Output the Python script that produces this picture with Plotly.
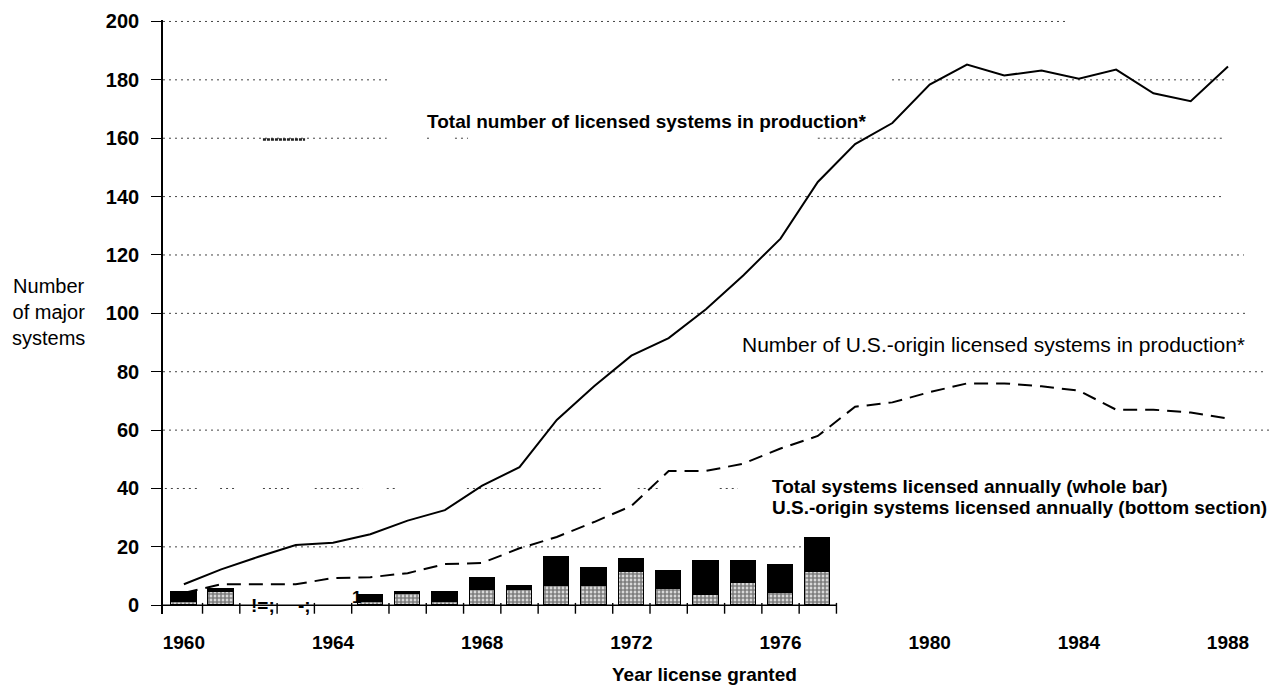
import plotly.graph_objects as go

# ---------------- data ----------------
years = list(range(1960, 1989))
total_in_production = [7.2, 12.3, 16.6, 20.6, 21.4, 24.3, 29.0, 32.6, 41.0, 47.3,
                       63.5, 75.0, 85.5, 91.5, 101.4, 113.0, 125.6, 145.0, 158.0, 165.2,
                       178.4, 185.2, 181.5, 183.2, 180.4, 183.5, 175.4, 172.7, 184.6]
us_in_production = [4.2, 7.2, 7.2, 7.2, 9.3, 9.6, 11.0, 14.1, 14.5, 19.5,
                    23.4, 28.5, 34.0, 46.0, 46.0, 48.5, 53.7, 58.0, 68.0, 69.5,
                    73.0, 76.0, 76.0, 75.0, 73.5, 67.0, 67.0, 66.0, 64.0]

bar_years = list(range(1960, 1978))
total_licensed = [4.6, 5.4, 0, 0, 0, 3.4, 4.4, 4.6, 9.5, 6.6,
                  16.6, 12.6, 15.8, 11.8, 15.2, 15.2, 13.7, 23.0]
us_licensed = [1.0, 4.7, 0, 0, 0, 1.0, 3.8, 1.0, 5.1, 5.1,
               6.5, 6.5, 11.4, 5.4, 3.6, 7.7, 4.1, 11.4]

x_tick_labels = [1960, 1964, 1968, 1972, 1976, 1980, 1984, 1988]
y_tick_labels = list(range(0, 201, 20))

FONT = "Liberation Sans, Arial, Helvetica, sans-serif"
W, H = 1277, 687
ML, MR, MT, MB = 163, 5, 20, 73


def px_x(p):
    return (p - ML) / (W - ML - MR)


def px_y(p):
    return (H - MB - p) / (H - MT - MB)


fig = go.Figure()

# stacked bars: US-origin (stippled) bottom, rest black on top
us_vals = [u if t > 0 else None for u, t in zip(us_licensed, total_licensed)]
rest_vals = [t - u if t > 0 else None for u, t in zip(us_licensed, total_licensed)]

fig.add_trace(go.Bar(
    x=bar_years, y=us_vals, width=0.68,
    marker=dict(color="white", line=dict(color="black", width=1.2),
                pattern=dict(shape=".", fgcolor="black", bgcolor="white",
                             size=4, solidity=0.75, fillmode="overlay")),
    hoverinfo="skip"))
fig.add_trace(go.Bar(
    x=bar_years, y=rest_vals, width=0.68,
    marker=dict(color="black", line=dict(color="black", width=1.2)),
    hoverinfo="skip"))

fig.add_trace(go.Scatter(x=years, y=total_in_production, mode="lines",
                         line=dict(color="black", width=2), hoverinfo="skip"))
fig.add_trace(go.Scatter(x=years, y=us_in_production, mode="lines",
                         line=dict(color="black", width=2, dash="14px,8px"),
                         hoverinfo="skip"))

# ---------------- dotted gridlines (broken as in the scan) ----------------
grid_segments = {
    200: [(1959.44, 1983.68)],
    180: [(1959.44, 1965.47), (1978.99, 1987.94)],
    160: [(1959.44, 1965.44), (1966.52, 1966.68), (1967.27, 1967.62), (1977.0, 1987.92)],
    140: [(1959.44, 1987.92)],
    120: [(1959.44, 1988.43)],
    100: [(1959.44, 1988.48)],
    80: [(1959.44, 1988.99)],
    60: [(1959.44, 1989.12)],
    40: [(1959.49, 1960.35), (1960.97, 1961.45), (1962.12, 1962.84), (1963.51, 1964.8),
         (1965.44, 1965.66), (1967.59, 1971.18), (1972.17, 1972.71), (1974.37, 1974.86)],
    20: [(1959.44, 1976.6)],
}
shapes = []
for yv, segs in grid_segments.items():
    for x0, x1 in segs:
        shapes.append(dict(type="line", xref="x", yref="y", x0=x0, x1=x1, y0=yv, y1=yv,
                           line=dict(color="#444", width=1, dash="2px,4px"), layer="below"))
# scan blemish on the 160 line
shapes.append(dict(type="line", xref="x", yref="y", x0=1962.12, x1=1963.25, y0=159.6, y1=159.6,
                   line=dict(color="#222", width=2.5, dash="3px,1px"), layer="below"))
# x baseline and half-year tick marks
shapes.append(dict(type="line", xref="x", yref="y", x0=1959.3, x1=bar_years[-1] + 0.5,
                   y0=0, y1=0, line=dict(color="black", width=1.6)))
for yr in bar_years:
    shapes.append(dict(type="line", xref="x", yref="y", x0=yr + 0.5, x1=yr + 0.5,
                       y0=0.8, y1=-2.9, line=dict(color="black", width=1.4)))

annotations = [
    dict(text="Total number of licensed systems in production*", x=1966.46, y=165.6,
         xanchor="left", yanchor="middle", showarrow=False,
         font=dict(family=FONT, size=19, color="black", weight="bold")),
    dict(text="Number of U.S.-origin licensed systems in production*", x=1974.91, y=89.2,
         xanchor="left", yanchor="middle", showarrow=False,
         font=dict(family=FONT, size=21, color="black")),
    dict(text="Total systems licensed annually (whole bar)", x=1975.71, y=40.8,
         xanchor="left", yanchor="middle", showarrow=False,
         font=dict(family=FONT, size=19, color="black", weight="bold")),
    dict(text="U.S.-origin systems licensed annually (bottom section)", x=1975.71, y=33.5,
         xanchor="left", yanchor="middle", showarrow=False,
         font=dict(family=FONT, size=19, color="black", weight="bold")),
    dict(text="Number<br>of major<br>systems", xref="paper", yref="paper",
         x=px_x(48), y=px_y(312),
         xanchor="center", yanchor="middle", showarrow=False, align="center",
         font=dict(family=FONT, size=20, color="black")),
    dict(text="Year license granted", xref="paper", yref="paper",
         x=px_x(704), y=px_y(674),
         xanchor="center", yanchor="middle", showarrow=False,
         font=dict(family=FONT, size=19, color="black", weight="bold")),
    # scanning artefacts in the original
    dict(text="!=;", x=1962.13, y=0.0, xanchor="center", yanchor="middle", showarrow=False,
         font=dict(family=FONT, size=19, color="black", weight="bold")),
    dict(text="-;", x=1963.23, y=0.0, xanchor="center", yanchor="middle", showarrow=False,
         font=dict(family=FONT, size=19, color="black", weight="bold")),
    dict(text="1", x=1964.63, y=2.7, xanchor="center", yanchor="middle", showarrow=False,
         font=dict(family=FONT, size=17, color="black", weight="bold")),
]

fig.update_layout(
    width=W, height=H, autosize=False,
    margin=dict(l=ML, r=MR, t=MT, b=MB, pad=0),
    paper_bgcolor="white", plot_bgcolor="white",
    barmode="stack", bargap=0, showlegend=False,
    shapes=shapes, annotations=annotations,
    xaxis=dict(range=[1959.44, 1989.18], showgrid=False, zeroline=False, showline=False,
               tickmode="array", tickvals=x_tick_labels, ticktext=[str(v) for v in x_tick_labels],
               ticks="", ticklabelstandoff=15,
               tickfont=dict(family=FONT, size=19, color="black", weight="bold")),
    yaxis=dict(range=[-3, 200.5], showgrid=False, zeroline=False,
               showline=True, linecolor="black", linewidth=1.6,
               tickmode="array", tickvals=y_tick_labels, ticktext=[str(v) for v in y_tick_labels],
               ticks="outside", ticklen=10, tickwidth=1.4, tickcolor="black",
               ticklabelstandoff=8,
               tickfont=dict(family=FONT, size=20, color="black", weight="bold")),
)

fig.write_html("out.html", config={"displayModeBar": False},
               post_script="document.body.style.margin='0';document.body.style.overflow='hidden';")
